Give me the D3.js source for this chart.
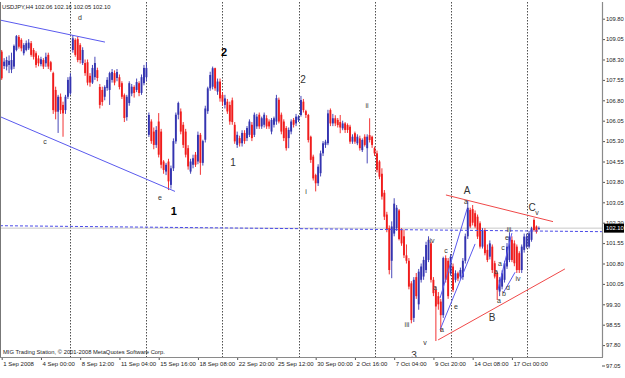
<!DOCTYPE html>
<html>
<head>
<meta charset="utf-8">
<script src="https://cdn.jsdelivr.net/npm/d3@7"></script>
<style>
body { margin: 0; background: #fff; }
svg { display: block; font-family: "Liberation Sans", Arial, sans-serif; }
</style>
</head>
<body>
<script>
// USDJPY H4 bars (bar 0 = 1 Sep 2008 08:00)
var opens = [
 108.59,108.06,108.04,108.10,107.93,108.04,108.65,109.13,109.02,108.53,
 108.65,108.71,108.90,108.65,108.53,108.34,108.13,108.28,108.16,108.47,
 108.20,107.80,107.18,106.38,106.93,106.63,106.44,106.93,107.06,108.65,
 109.02,109.05,108.83,108.17,108.17,108.20,107.70,107.45,107.65,107.91,
 107.29,107.18,106.93,107.25,107.18,107.55,107.80,107.62,107.65,107.43,
 106.99,106.18,106.70,107.05,107.29,107.18,107.43,107.07,107.43,107.65,
 105.53,106.02,105.65,105.16,106.02,105.65,104.55,104.18,104.55,103.69,
 104.30,105.29,106.27,106.39,105.90,105.65,105.04,104.18,104.43,104.80,
 104.55,105.53,104.50,105.35,106.40,107.24,107.30,107.98,107.12,107.49,
 107.00,106.63,106.75,106.63,106.80,105.90,105.16,105.41,105.22,105.60,
 105.41,105.53,105.90,105.53,105.84,106.27,105.84,105.90,106.14,106.02,
 105.65,105.90,106.02,106.82,106.27,106.02,105.78,105.41,105.65,106.08,
 105.95,106.08,106.26,106.75,106.40,106.26,105.46,104.73,104.05,103.75,
 104.12,104.85,105.16,105.22,106.44,105.95,106.14,106.08,106.00,105.77,
 105.95,105.89,105.83,105.28,105.59,105.22,105.40,104.97,105.46,105.04,
 105.52,105.46,105.04,104.85,104.55,104.10,103.40,102.60,102.10,100.90,
 101.90,102.10,102.75,102.03,101.80,101.10,100.90,100.07,98.80,100.30,
 99.30,100.20,100.32,100.56,100.93,101.54,100.20,99.83,99.60,99.40,
 98.90,101.00,100.90,100.44,100.69,100.20,100.44,100.32,100.30,100.90,
 101.80,102.77,102.80,102.65,102.52,102.28,101.42,102.03,101.30,101.05,
 101.42,100.81,100.44,99.77,99.95,100.20,100.69,100.93,101.67,101.54,
 101.42,101.18,100.56,101.30,101.42,101.42,101.67,102.40,102.16,102.06];
var highs = [
 108.65,108.35,108.40,108.45,108.55,108.85,109.20,109.20,109.08,108.90,
 109.00,109.05,108.98,108.72,108.60,108.45,108.40,108.35,108.55,108.55,
 108.25,107.85,107.30,107.00,107.05,106.75,107.00,107.65,107.80,109.20,
 109.08,109.14,108.90,108.75,108.30,108.30,107.80,108.10,108.40,108.00,
 107.40,107.30,107.35,107.65,107.85,107.95,107.90,107.95,107.75,107.50,
 107.05,107.00,107.50,107.40,107.35,107.60,107.50,107.75,108.10,108.20,
 106.35,106.10,105.80,105.85,106.33,105.75,104.60,104.50,104.65,104.40,
 105.40,106.35,106.75,106.50,106.00,105.75,105.15,104.65,104.80,104.90,
 105.65,105.60,105.35,106.60,107.30,107.85,108.04,108.00,107.60,107.60,
 107.10,107.00,106.85,106.75,106.90,106.00,105.65,105.50,105.70,105.70,
 105.85,106.10,106.00,106.35,106.30,106.35,106.20,106.35,106.25,106.10,
 106.15,106.20,107.00,106.90,106.35,106.10,105.85,105.80,106.10,106.15,
 106.30,106.25,106.96,106.85,106.45,106.30,105.50,104.80,104.10,104.45,
 104.95,105.30,105.35,106.45,106.50,106.30,106.25,106.15,106.26,106.05,
 106.00,105.95,105.90,105.55,105.65,105.55,105.50,105.40,105.55,105.55,
 106.14,105.50,105.10,104.95,104.60,104.30,103.50,102.70,102.20,102.35,
 103.20,102.95,102.80,102.10,102.05,101.50,101.00,100.15,100.30,100.45,
 100.60,100.80,101.05,101.60,101.80,101.60,100.30,99.95,99.75,99.50,
 101.05,101.10,101.00,101.15,100.80,100.55,100.50,100.65,101.00,101.90,
 103.10,102.85,102.95,102.75,102.60,102.35,102.10,102.10,101.50,101.65,
 101.50,100.90,100.50,100.30,100.55,100.90,101.55,101.95,101.80,101.65,
 101.50,101.25,101.50,101.90,101.90,102.00,102.15,102.46,102.20,102.16];
var lows = [
 107.55,107.95,107.90,107.80,107.80,107.95,108.60,108.70,108.60,108.45,
 108.60,108.65,108.40,108.30,108.00,108.05,108.05,107.95,108.03,107.95,
 107.85,106.30,106.10,105.60,106.30,105.46,106.30,106.85,107.00,108.55,
 108.40,108.20,108.15,108.10,107.70,107.35,107.30,107.40,107.55,107.50,
 106.50,106.60,106.80,107.15,106.63,107.45,107.35,107.50,107.20,106.85,
 106.00,106.05,106.60,106.95,106.90,107.10,106.95,107.00,107.35,107.50,
 105.45,105.20,105.00,105.05,104.70,104.30,104.10,104.05,103.50,103.55,
 104.20,105.20,106.10,105.55,105.05,104.70,104.25,104.10,104.30,104.35,
 104.45,104.06,104.40,105.25,106.30,107.15,107.20,107.15,107.00,106.75,
 106.60,106.50,106.30,105.90,105.90,105.20,105.05,105.10,105.10,105.20,
 105.30,105.45,105.30,105.45,105.75,105.75,105.75,105.80,105.75,105.75,
 105.55,105.80,105.90,105.95,105.55,105.30,104.95,105.04,105.55,105.80,
 105.85,106.00,106.20,106.35,106.15,105.25,104.50,103.85,103.45,103.65,
 104.00,104.75,105.05,105.15,105.85,105.85,105.85,105.80,105.59,105.70,
 105.60,105.60,105.20,105.20,105.20,105.15,104.95,104.90,105.10,104.48,
 105.25,105.05,104.75,104.15,103.90,103.15,102.40,101.95,100.40,100.26,
 101.80,102.00,101.65,101.45,101.00,100.80,99.85,98.60,98.65,99.50,
 99.10,100.10,100.20,100.45,100.85,100.10,99.60,97.95,99.10,98.30,
 98.80,100.10,99.50,100.35,99.75,100.10,100.15,100.20,100.20,100.80,
 101.70,102.10,102.20,102.10,101.70,101.35,101.35,101.10,100.85,100.95,
 100.45,100.25,99.46,99.60,99.85,100.10,100.60,100.85,100.85,100.70,
 100.45,100.45,100.45,101.20,101.35,101.35,101.60,101.97,101.90,102.05];
var closes = [
 107.61,108.22,108.28,108.25,108.28,108.80,109.16,108.77,108.71,108.83,
 108.90,108.92,108.47,108.40,108.10,108.16,108.31,108.04,108.40,108.04,
 107.91,106.44,106.38,106.93,106.44,106.32,106.93,107.55,107.67,109.08,
 108.47,108.28,108.28,108.65,107.80,107.45,107.45,107.99,108.17,107.62,
 106.63,106.74,107.29,107.55,107.80,107.84,107.45,107.84,107.29,106.93,
 106.15,106.93,107.43,107.30,107.07,107.47,107.07,107.65,107.99,107.99,
 106.26,105.30,105.16,105.71,104.80,104.43,104.24,104.43,103.82,104.30,
 105.30,106.27,106.70,105.65,105.16,104.80,104.37,104.55,104.67,104.43,
 105.53,104.50,105.30,106.50,107.24,107.73,107.98,107.24,107.49,106.87,
 106.75,106.87,106.39,106.02,106.00,105.29,105.53,105.22,105.60,105.30,
 105.78,106.02,105.41,106.27,106.20,105.84,106.14,106.27,105.84,105.84,
 106.08,106.14,106.88,106.02,105.65,105.41,105.04,105.71,106.02,105.90,
 106.20,106.20,106.81,106.44,106.26,105.34,104.61,103.93,103.75,104.36,
 104.85,105.22,105.28,106.32,105.95,106.14,105.95,105.89,105.80,105.95,
 105.71,105.71,105.28,105.46,105.28,105.46,105.04,105.34,105.16,105.46,
 105.34,105.16,104.85,104.24,103.99,103.26,102.52,102.03,100.56,102.16,
 103.00,102.85,101.70,101.54,101.10,100.90,99.95,98.72,100.20,99.60,
 100.50,100.69,100.93,101.48,101.67,100.20,99.71,99.22,99.30,98.90,
 101.00,100.20,99.60,101.05,99.83,100.44,100.25,100.56,100.90,101.80,
 102.85,102.16,102.30,102.16,101.79,101.42,102.03,101.18,100.93,101.54,
 100.56,100.32,99.83,100.20,100.44,100.81,101.42,101.79,100.93,100.81,
 100.56,100.56,101.42,101.79,101.79,101.91,102.09,102.03,101.97,102.10];

var bidPrice = 102.10;
var header = "USDJPY,H4  102.06 102.16 102.05 102.10";
var footer = "MIG Trading Station, \u00a9 2001-2008 MetaQuotes Software Corp.";

var priceTicks = [109.80,109.05,108.30,107.55,106.80,106.05,105.30,104.55,103.80,
                  103.05,102.30,101.55,100.80,100.05,99.30,98.55,97.80,97.05];
var dateTicks = [0,16,32,48,64,80,96,112,128,144,160,176,192,208];
var dateLabels = ["1 Sep 2008","4 Sep 00:00","8 Sep 12:00","11 Sep 04:00","15 Sep 16:00",
                  "18 Sep 08:00","22 Sep 20:00","25 Sep 12:00","30 Sep 00:00","2 Oct 16:00",
                  "7 Oct 04:00","9 Oct 20:00","14 Oct 08:00","17 Oct 00:00"];
var weekStarts = [28,59,90,121,152,183,214];

// drawn objects: [bar, price] end points
var blueLines = [
  [[-0.7,109.75],[42.1,108.94]],
  [[-0.7,106.20],[70.65,103.45]],
  [[178.7,99.53],[189.7,102.80]],
  [[178.7,98.36],[193.0,101.52]],
  [[202.3,99.83],[208.0,101.92]],
  [[204.4,99.71],[209.3,100.48]]];
var dashedLines = [[[-0.7,102.19],[244.7,101.97]]];
var redLines = [
  [[181.1,103.32],[224.75,102.34]],
  [[177.9,97.99],[229.6,100.60]]];

// wave labels: [text, bar, price]
var boldLabels = [["1",70.2,102.73],["2",90.6,108.58]];
var bigLabels = [["1",94.3,104.53],["2",122.8,107.55],["3",168.1,97.40],
                 ["A",189.7,103.50],["B",199.9,98.83],["C",216.2,102.87]];
var smallLabels = [["d",31.9,109.83],["c",17.65,105.30],["e",64.5,103.24],
  ["i",124.1,103.43],["ii",148.9,106.59],["iii",165.2,98.54],["iv",175.4,101.63],
  ["v",172.6,97.88],["a",176.6,99.90],["c",181.1,101.26],["a",179.5,98.36],
  ["e",185.2,99.20],["a",189.3,103.06],["a",201.5,100.49],["c",204.4,101.37],
  ["a",203.1,100.78],["e",206.0,101.77],["iii",206.8,102.03],["d",206.4,99.90],
  ["b",204.8,99.71],["a",202.7,99.42],["iv",210.5,100.23],["v",218.2,102.66]];

var width = 625, height = 378;
var plot = {left: 0, right: 602, top: 2, bottom: 357};
var bull = "#3434b0", bear = "#f01c1c";
var fs = "6px";

var xScale = d3.scaleLinear().domain([0, 219]).range([1.7, 538.9]);
var yScale = d3.scaleLinear().domain([97.05, 109.80]).range([365.5, 18.7]);

var svg = d3.select("body").append("svg")
    .attr("width", width)
    .attr("height", height);

svg.append("defs").append("clipPath").attr("id", "plotclip")
  .append("rect")
    .attr("x", plot.left).attr("y", plot.top)
    .attr("width", plot.right - plot.left).attr("height", plot.bottom - plot.top);

var g = svg.append("g").attr("clip-path", "url(#plotclip)");

// week separators
g.selectAll(".sep")
  .data(weekStarts)
  .enter().append("line")
    .attr("x1", function(d){ return Math.round(xScale(d)) + 0.5; })
    .attr("x2", function(d){ return Math.round(xScale(d)) + 0.5; })
    .attr("y1", plot.top).attr("y2", plot.bottom)
    .attr("stroke", "#505050")
    .attr("stroke-width", 1)
    .attr("stroke-dasharray", "1.5,1.5");

// bid line
g.append("line")
    .attr("x1", plot.left).attr("x2", plot.right)
    .attr("y1", yScale(bidPrice)).attr("y2", yScale(bidPrice))
    .attr("stroke", "#c8c8c8").attr("stroke-width", 1);

var bars = d3.range(opens.length).map(function(i){
    return {i: i, o: opens[i], h: highs[i], l: lows[i], c: closes[i]};
});

g.selectAll(".wick")
  .data(bars)
  .enter().append("line")
    .attr("x1", function(d){ return xScale(d.i); })
    .attr("x2", function(d){ return xScale(d.i); })
    .attr("y1", function(d){ return yScale(Math.max(d.h, d.o, d.c)); })
    .attr("y2", function(d){ return yScale(Math.min(d.l, d.o, d.c)); })
    .attr("stroke", function(d){ return d.c >= d.o ? bull : bear; })
    .attr("stroke-width", 0.9);

g.selectAll(".body")
  .data(bars)
  .enter().append("rect")
    .attr("x", function(d){ return xScale(d.i) - 0.95; })
    .attr("width", 1.9)
    .attr("y", function(d){ return yScale(Math.max(d.o, d.c)); })
    .attr("height", function(d){ return Math.max(0.8, Math.abs(yScale(d.o) - yScale(d.c))); })
    .attr("fill", function(d){ return d.c >= d.o ? bull : bear; });

// trend lines
function addLines(list, color, dash){
    g.selectAll(null)
      .data(list)
      .enter().append("line")
        .attr("x1", function(d){ return xScale(d[0][0]); })
        .attr("y1", function(d){ return yScale(d[0][1]); })
        .attr("x2", function(d){ return xScale(d[1][0]); })
        .attr("y2", function(d){ return yScale(d[1][1]); })
        .attr("stroke", color)
        .attr("stroke-width", 1)
        .attr("stroke-dasharray", dash);
}
addLines(blueLines, "#5a5aee", null);
addLines(dashedLines, "#4a4ae8", "3,2");
addLines(redLines, "#f04848", null);

// wave labels
function addLabels(list, size, weight, color){
    g.selectAll(null)
      .data(list)
      .enter().append("text")
        .attr("x", function(d){ return xScale(d[1]); })
        .attr("y", function(d){ return yScale(d[2]); })
        .attr("dy", "0.35em")
        .attr("text-anchor", "middle")
        .attr("font-size", size)
        .attr("font-weight", weight)
        .attr("fill", color)
        .text(function(d){ return d[0]; });
}
addLabels(smallLabels, "7px", "normal", "#333");
addLabels(bigLabels, "10px", "normal", "#333");
addLabels(boldLabels, "11px", "bold", "#000");

// header and footer
svg.append("text")
    .attr("x", 2).attr("y", 8.5)
    .attr("font-size", "5.8px").attr("fill", "#222")
    .text(header);
svg.append("text")
    .attr("x", 3).attr("y", 354)
    .attr("font-size", "5.8px").attr("fill", "#222")
    .text(footer);

// price axis
var yAxis = svg.append("g")
    .attr("transform", "translate(" + plot.right + ",0)")
    .call(d3.axisRight(yScale).tickValues(priceTicks).tickSize(3).tickSizeOuter(0)
          .tickFormat(d3.format(".2f")));
yAxis.select(".domain").remove();
yAxis.selectAll("text").attr("font-size", "5.8px").attr("fill", "#222").attr("x", 4);
yAxis.selectAll("line").attr("stroke", "#555");

// time axis
var xAxis = svg.append("g")
    .attr("transform", "translate(0," + plot.bottom + ")")
    .call(d3.axisBottom(xScale).tickValues(dateTicks).tickSize(3).tickSizeOuter(0)
          .tickFormat(function(d, k){ return dateLabels[k]; }));
xAxis.select(".domain").remove();
xAxis.selectAll("text")
    .attr("font-size", fs).attr("fill", "#222")
    .attr("text-anchor", "start").attr("x", 1).attr("y", 5);
xAxis.selectAll("line").attr("stroke", "#555");

// frame
svg.append("line")
    .attr("x1", plot.right + 0.5).attr("x2", plot.right + 0.5)
    .attr("y1", plot.top).attr("y2", plot.bottom)
    .attr("stroke", "#8a8a8a").attr("stroke-width", 1.2);
svg.append("line")
    .attr("x1", plot.left).attr("x2", plot.right + 1)
    .attr("y1", plot.bottom + 0.5).attr("y2", plot.bottom + 0.5)
    .attr("stroke", "#8a8a8a").attr("stroke-width", 1.2);
svg.append("line")
    .attr("x1", plot.left + 0.5).attr("x2", plot.left + 0.5)
    .attr("y1", plot.top).attr("y2", plot.bottom)
    .attr("stroke", "#777").attr("stroke-width", 1);

// bid price tag
var bidTag = svg.append("g").attr("transform", "translate(" + (plot.right + 2) + "," + yScale(bidPrice) + ")");
bidTag.append("rect")
    .attr("x", 0).attr("y", -4.5).attr("width", 20).attr("height", 9)
    .attr("fill", "#000");
bidTag.append("text")
    .attr("x", 2).attr("y", 0).attr("dy", "0.35em")
    .attr("font-size", "5.8px").attr("fill", "#fff")
    .text(d3.format(".2f")(bidPrice));
</script>
</body>
</html>
